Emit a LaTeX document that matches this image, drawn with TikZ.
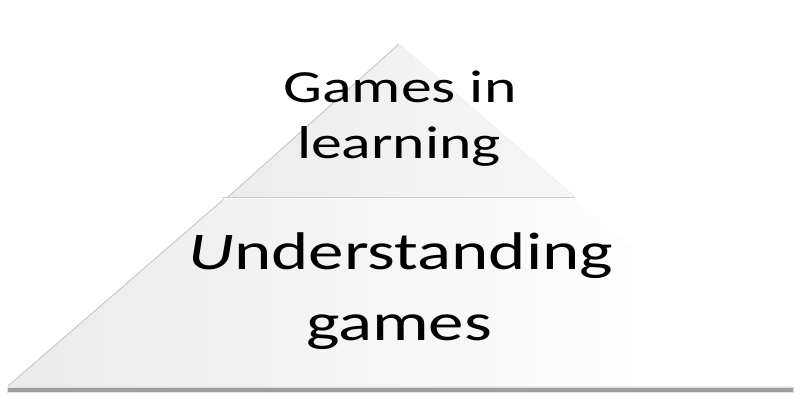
\documentclass[tikz,border=0pt]{standalone}
\usepackage{fontspec}
\newfontfamily\calfont[FakeStretch=1.34]{Carlito}
\pgfdeclarehorizontalshading{basefade}{100bp}{color(0bp)=(black!11); color(25bp)=(black!8); color(68bp)=(white); color(100bp)=(white)}
\pgfdeclarehorizontalshading{topfade}{100bp}{color(0bp)=(black!10); color(50bp)=(black!5); color(85bp)=(black!3); color(100bp)=(black!6)}
\begin{document}
\begin{tikzpicture}[x=1pt,y=-1pt,
  toptext/.style={font=\calfont\fontsize{46}{56}\selectfont, anchor=base, inner sep=0pt},
  bottext/.style={font=\calfont\fontsize{53}{66}\selectfont, anchor=base, inner sep=0pt}]
\useasboundingbox (0,0) rectangle (800,408);
% named corners
\coordinate (apex) at (399,44);
\coordinate (tl) at (228,197);
\coordinate (tr) at (575,197);
\coordinate (bl) at (224,199);
\coordinate (br) at (577,199);
\coordinate (baseL) at (8,386);
\coordinate (baseR) at (791,386);
% base shadow
\draw[line width=6pt, black!12] (7,390) -- (794,390);
\draw[line width=3.5pt, black!38] (8,390) -- (793,390);
% bottom piece
\shade[shading=basefade] (bl) -- (br) -- (baseR) -- (baseL) -- cycle;
\draw[black!22, line width=0.9pt] (bl) -- (baseL);
\draw[black!8, line width=0.9pt] (baseL) -- (baseR);
% top piece
\shade[shading=topfade] (apex) -- (tr) -- (tl) -- cycle;
\draw[black!22, line width=0.9pt] (tl) -- (apex);
\draw[black!6, line width=0.8pt] (apex) -- (tr);
% divider
\draw[black!20, line width=1.6pt] (222,197.5) -- (575,197.5);
% texts
\node[toptext] (t1) at (400,102) {Games in};
\node[toptext] (t2) at (399,158) {learning};
\node[bottext] (b1) at (401,269) {\textit{U}nderstanding};
\node[bottext] (b2) at (399,340) {games};
\end{tikzpicture}
\end{document}
